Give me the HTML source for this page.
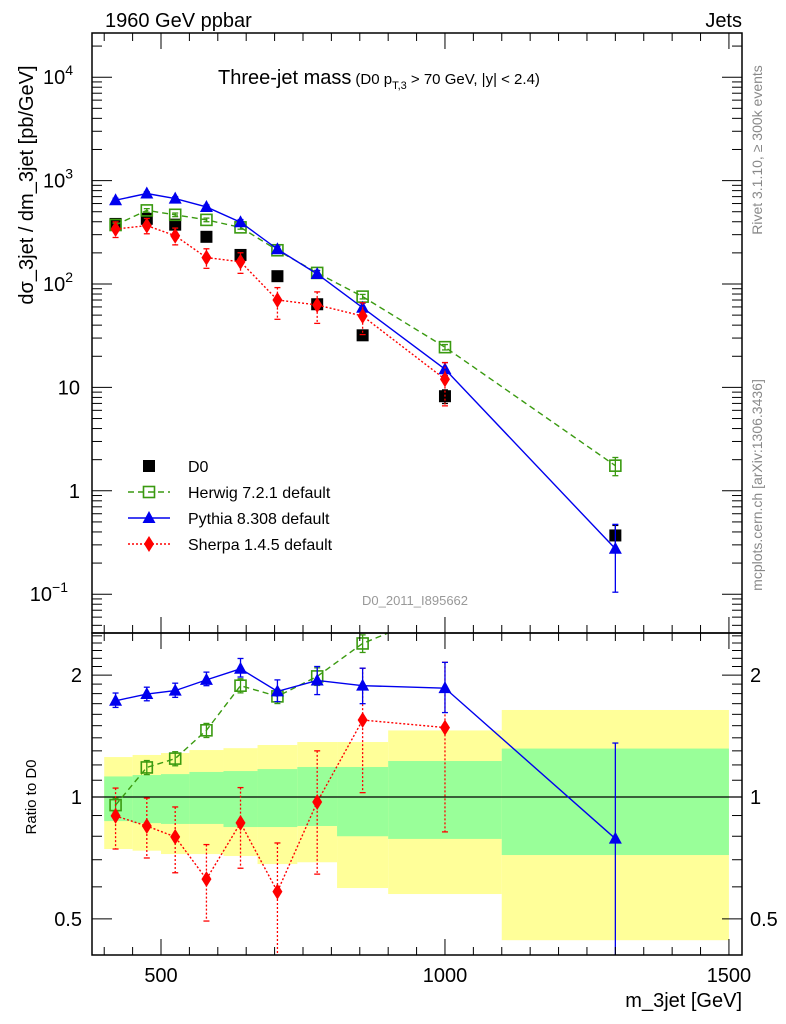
<!DOCTYPE html>
<html><head><meta charset="utf-8"><style>
html,body{margin:0;padding:0;background:#fff;}
svg{display:block;font-family:"Liberation Sans",sans-serif;}
</style></head><body>
<svg id="chart" width="786" height="1024" viewBox="0 0 786 1024" xmlns="http://www.w3.org/2000/svg">
<text x="105" y="27" font-size="20">1960 GeV ppbar</text>
<text x="742" y="27" font-size="20" text-anchor="end">Jets</text>
<text x="218" y="84" font-size="20">Three-jet mass<tspan font-size="15" dx="4">(D0 p</tspan><tspan font-size="11" dy="5">T,3</tspan><tspan font-size="15" dy="-5"> &gt; 70 GeV, |y| &lt; 2.4)</tspan></text>
<text x="415" y="605" font-size="13" fill="#999" text-anchor="middle">D0_2011_I895662</text>
<text transform="translate(762,150) rotate(-90)" font-size="14" fill="#888" text-anchor="middle">Rivet 3.1.10, ≥ 300k events</text>
<text transform="translate(762,485) rotate(-90)" font-size="14" fill="#888" text-anchor="middle">mcplots.cern.ch [arXiv:1306.3436]</text>
<text transform="translate(33,185) rotate(-90)" font-size="20" text-anchor="middle">dσ_3jet / dm_3jet [pb/GeV]</text>
<text transform="translate(36,797) rotate(-90)" font-size="15" text-anchor="middle">Ratio to D0</text>
<text x="742" y="1007" font-size="20" text-anchor="end">m_3jet [GeV]</text>
<g id="g"></g>
</svg>
<script>
const xCenters=[420,475,525,580,640,705,775,855,1000,1300];
const binEdges=[400,450,500,550,610,670,740,810,900,1100,1500];
const d0Values=[381,427,375,286,191,119,63.7,31.9,8.22,0.37];
const herwigValues=[372,515,467,417,353,212,128,75.5,24.5,1.75];
const pythiaValues=[646,750,670,556,396,217,125,59,15,0.275];
const sherpaValues=[340,367,293,180,164,70,62.7,49,12];
const bandYellowUp=[1.255,1.27,1.284,1.306,1.32,1.344,1.367,1.367,1.46,1.64];
const bandYellowDn=[0.744,0.737,0.723,0.723,0.715,0.683,0.69,0.596,0.576,0.443];
const bandGreenUp=[1.124,1.133,1.139,1.153,1.159,1.172,1.186,1.186,1.227,1.317];
const bandGreenDn=[0.872,0.862,0.858,0.858,0.843,0.843,0.848,0.80,0.788,0.719];
const d0MainRelErr=[0.03,0.03,0.03,0.03,0.03,0.03,0.04,0.05,0.15,0.25];
const herwigRatio=[0.955,1.183,1.244,1.461,1.883,1.772,1.985,2.394,2.9,4.9];
const pythiaRatio=[1.728,1.796,1.831,1.946,2.073,1.823,1.940,1.883,1.857,0.789];
const pythiaRatioUp=[1.806,1.867,1.91,2.034,2.198,1.946,2.1,2.08,2.15,1.359];
const pythiaRatioDn=[1.664,1.728,1.762,1.883,1.978,1.72,1.79,1.70,1.616,0.3];
const sherpaRatio=[0.898,0.848,0.797,0.627,0.863,0.584,0.972,1.549,1.484];
const sherpaRatioUp=[1.052,0.994,0.945,0.763,1.055,0.77,1.30,2.08,2.15];
const sherpaRatioDn=[0.744,0.707,0.65,0.494,0.667,0.38,0.645,1.025,0.82];
const herwigRelErr=[0.04,0.04,0.04,0.04,0.04,0.04,0.05,0.05,0.06,0.2];
const mainTickLabels=[[4,"10","4"],[3,"10","3"],[2,"10","2"],[1,"10",""],[0,"1",""],[-1,"10","−1"]];
const ratioTickLabels=[[0.5,"0.5"],[1,"1"],[2,"2"]];
const xTickLabels=[500,1000,1500];

const L=92,R=742,T=33,MB=633,RB=955;
const X0=378.5,X1=1523;
const sx=v=>L+(v-X0)/(X1-X0)*(R-L);
const sy=v=>284-(Math.log10(v)-2)*103.4;
const sr=v=>797-Math.log10(v)*405;
const NS="http://www.w3.org/2000/svg";
const g=document.getElementById('g');
function mk(tag,attrs,parent){const e=document.createElementNS(NS,tag);for(const k in attrs)e.setAttribute(k,attrs[k]);(parent||g).appendChild(e);return e;}

const defs=mk('defs',{});
const c1=mk('clipPath',{id:'cm'},defs);mk('rect',{x:L,y:T,width:R-L,height:MB-T},c1);
const c2=mk('clipPath',{id:'cr'},defs);mk('rect',{x:L,y:MB,width:R-L,height:RB-MB},c2);
const gm=mk('g',{'clip-path':'url(#cm)'});


const gr=mk('g',{'clip-path':'url(#cr)'});



for(let i=0;i<10;i++){
  const x=sx(binEdges[i]),w=sx(binEdges[i+1])-x;
  let r=mk('rect',{x:x,y:sr(bandYellowUp[i]),width:w,height:sr(bandYellowDn[i])-sr(bandYellowUp[i]),fill:'#ffff99'},gr);
  
  
}
for(let i=0;i<10;i++){
  const x=sx(binEdges[i]),w=sx(binEdges[i+1])-x;
  let r=mk('rect',{x:x,y:sr(bandGreenUp[i]),width:w,height:sr(bandGreenDn[i])-sr(bandGreenUp[i]),fill:'#99ff99'},gr);
  
  
}
let ref=mk('line',{x1:L,x2:R,y1:sr(1),y2:sr(1),stroke:'#000','stroke-width':1.2},gr);



function polyline(pts,color,dash,parent,name){
  const p=mk('polyline',{points:pts.map(q=>q.join(',')).join(' '),fill:'none',stroke:color,'stroke-width':1.4,'stroke-dasharray':dash},parent);
  
  
}
function errbar(x,y1,y2,color,dash,parent){
  const e=mk('line',{x1:x,x2:x,y1:y1,y2:y2,stroke:color,'stroke-width':1.3,'stroke-dasharray':dash},parent);
  
  
  mk('line',{x1:x-3,x2:x+3,y1:y1,y2:y1,stroke:color,'stroke-width':1.3},parent);
  mk('line',{x1:x-3,x2:x+3,y1:y2,y2:y2,stroke:color,'stroke-width':1.3},parent);
}
function marker(type,x,y,parent){
  let e;
  if(type==='sq')e=mk('rect',{x:x-6,y:y-6,width:12,height:12,fill:'#000'},parent);
  if(type==='osq')e=mk('rect',{x:x-5.5,y:y-5.5,width:11,height:11,fill:'none',stroke:'#3a9a10','stroke-width':1.6},parent);
  if(type==='tri')e=mk('polygon',{points:`${x},${y-7} ${x+6.5},${y+5} ${x-6.5},${y+5}`,fill:'#0000ee'},parent);
  if(type==='dia')e=mk('polygon',{points:`${x},${y-8} ${x+5},${y} ${x},${y+8} ${x-5},${y}`,fill:'#ff0000'},parent);
  
  
}

// D0 first (behind MC)
d0Values.forEach((v,i)=>{const e=d0MainRelErr[i];errbar(sx(xCenters[i]),sy(v*(1+e)),sy(v*(1-e)),'#000','',gm);marker('sq',sx(xCenters[i]),sy(v),gm);});
polyline(xCenters.map((c,i)=>[sx(c),sy(herwigValues[i])]),'#3a9a10','6,4',gm,'herwig-line');
xCenters.forEach((c,i)=>{const v=herwigValues[i],e=herwigRelErr[i];errbar(sx(c),sy(v*(1+e)),sy(v*(1-e)),'#3a9a10','',gm);marker('osq',sx(c),sy(v),gm);});
polyline(xCenters.map((c,i)=>[sx(c),sy(pythiaValues[i])]),'#0000ee','',gm,'pythia-line');
xCenters.forEach((c,i)=>{const v=pythiaValues[i],r=pythiaRatio[i];errbar(sx(c),sy(v*pythiaRatioUp[i]/r),sy(v*pythiaRatioDn[i]/r),'#0000ee','',gm);marker('tri',sx(c),sy(v),gm);});
polyline(sherpaValues.map((v,i)=>[sx(xCenters[i]),sy(v)]),'#ff0000','2,2',gm,'sherpa-line');
sherpaValues.forEach((v,i)=>{const r=sherpaRatio[i];errbar(sx(xCenters[i]),sy(v*sherpaRatioUp[i]/r),sy(v*sherpaRatioDn[i]/r),'#ff0000','2,2',gm);marker('dia',sx(xCenters[i]),sy(v),gm);});

polyline(xCenters.map((c,i)=>[sx(c),sr(herwigRatio[i])]),'#3a9a10','6,4',gr,'herwig-ratio-line');
xCenters.forEach((c,i)=>{const v=herwigRatio[i],e=herwigRelErr[i];errbar(sx(c),sr(v*(1+e)),sr(v*(1-e)),'#3a9a10','',gr);marker('osq',sx(c),sr(v),gr);});
polyline(sherpaRatio.map((v,i)=>[sx(xCenters[i]),sr(v)]),'#ff0000','2,2',gr,'sherpa-ratio-line');
sherpaRatio.forEach((v,i)=>{errbar(sx(xCenters[i]),sr(sherpaRatioUp[i]),sr(sherpaRatioDn[i]),'#ff0000','2,2',gr);marker('dia',sx(xCenters[i]),sr(v),gr);});
polyline(xCenters.map((c,i)=>[sx(c),sr(pythiaRatio[i])]),'#0000ee','',gr,'pythia-ratio-line');
xCenters.forEach((c,i)=>{errbar(sx(c),sr(pythiaRatioUp[i]),sr(pythiaRatioDn[i]),'#0000ee','',gr);marker('tri',sx(c),sr(pythiaRatio[i]),gr);});

let f1=mk('rect',{x:L,y:T,width:R-L,height:MB-T,fill:'none',stroke:'#000','stroke-width':1.5});


let f2=mk('rect',{x:L,y:MB,width:R-L,height:RB-MB,fill:'none',stroke:'#000','stroke-width':1.5});



for(let v=400;v<=1500;v+=50){
  const x=sx(v),maj=v%500===0;const len=maj?16:8;
  [[T,1],[MB,-1],[MB,1],[RB,-1]].forEach(([y,d])=>mk('line',{x1:x,x2:x,y1:y,y2:y+d*len,stroke:'#000','stroke-width':1}));
}
xTickLabels.forEach(v=>{const t=mk('text',{x:sx(v),y:982,'font-size':20,'text-anchor':'middle'});t.textContent=v;

});

for(let d=-2;d<=4;d++){for(let m=1;m<=9;m++){const v=m*Math.pow(10,d);const y=sy(v);if(y<T||y>MB)continue;const len=m===1?20:10;
mk('line',{x1:L,x2:L+len,y1:y,y2:y,stroke:'#000','stroke-width':1});mk('line',{x1:R,x2:R-len,y1:y,y2:y,stroke:'#000','stroke-width':1});}}
mainTickLabels.forEach(([e,b,s])=>{const t=mk('text',{x:80,y:sy(Math.pow(10,e))+7,'font-size':20,'text-anchor':'end'});


if(s){t.setAttribute('x',s.length>1?68:73);t.innerHTML=b+'<tspan font-size="14" dy="-9">'+s+'</tspan>';}else t.textContent=b;});

for(let k=4;k<=25;k++){const v=k/10;const y=sr(v);if(y<MB||y>RB)continue;const maj=(v===0.5||v===1||v===2);const len=maj?20:10;
mk('line',{x1:L,x2:L+len,y1:y,y2:y,stroke:'#000','stroke-width':1});mk('line',{x1:R,x2:R-len,y1:y,y2:y,stroke:'#000','stroke-width':1});}
ratioTickLabels.forEach(([v,s])=>{[[82,'end'],[750,'start']].forEach(([x,a])=>{const t=mk('text',{x:x,y:sr(v)+7,'font-size':20,'text-anchor':a});t.textContent=s;

});});

const legend=mk('g',{});


const items=[['D0','sq',null,''],['Herwig 7.2.1 default','osq','#3a9a10','6,4'],['Pythia 8.308 default','tri','#0000ee',''],['Sherpa 1.4.5 default','dia','#ff0000','2,2']];
items.forEach((it,i)=>{const y=466+i*26;
if(it[2])mk('line',{x1:128,x2:170,y1:y,y2:y,stroke:it[2],'stroke-width':1.4,'stroke-dasharray':it[3]},legend);
marker(it[1],149,y,legend);
const t=mk('text',{x:188,y:y+6,'font-size':16},legend);t.textContent=it[0];

});
</script>
</body></html>
